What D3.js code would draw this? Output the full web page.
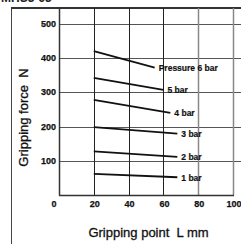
<!DOCTYPE html>
<html>
  <head>
    <meta charset="utf-8">
    <title>Gripping force</title>
    <script src="https://cdn.jsdelivr.net/npm/d3@7"></script>
    <style>
      body { margin: 0; background: #fff; }
      svg { display: block; font-family: "Liberation Sans", Arial, sans-serif; }
      .tick { font-size: 9px; font-weight: bold; fill: #111; stroke: #111; stroke-width: 0.25px; }
      .curveLabel { font-size: 8.5px; font-weight: bold; fill: #111; stroke: #111; stroke-width: 0.2px; }
      .title { font-size: 13px; fill: #111; stroke: #111; stroke-width: 0.3px; }
    </style>
  </head>
  <body>
    <svg id="chart" width="241" height="244"></svg>
    <script>
      // data
      xTicks = [0, 20, 40, 60, 80, 100];
      yTicks = [100, 200, 300, 400, 500];
      yTickLabels = [0, 100, 200, 300, 400, 500];
      curveNames = ["Pressure 6 bar", "5 bar", "4 bar", "3 bar", "2 bar", "1 bar"];
      startL = [20, 20, 20, 20, 20, 20];
      endL = [55, 60, 64, 68, 68, 68];
      startForce = [420, 342, 278, 199, 128, 63];
      endForce = [372, 307, 240, 180, 112, 53];

      chart = d3.select("#chart");
      width = 241;
      height = 244;
      margin = { top: 8, left: 59, bottom: 195.5 };

      x = d3.scaleLinear().domain([0, 100]).range([59, 233]);
      y = d3.scaleLinear().domain([0, 500]).range([195.5, 23.5]);

      // heading, cut off by the top edge like the scan
      chart.append("text")
        .attr("x", 1)
        .attr("y", 1.5)
        .style("font-size", "12px")
        .style("font-weight", "bold")
        .style("fill", "#222")
        .text("MHS3-63");

      // frame
      chart.append("line")
        .attr("x1", 11.5).attr("x2", 11.5)
        .attr("y1", margin.top).attr("y2", height)
        .attr("stroke", "#444").attr("stroke-width", 1);
      chart.append("line")
        .attr("x1", 11).attr("x2", width)
        .attr("y1", margin.top).attr("y2", margin.top)
        .attr("stroke", "#333").attr("stroke-width", 2);

      // grid
      chart.append("g")
        .selectAll("line")
          .data(yTicks)
        .enter().append("line")
          .attr("x1", margin.left)
          .attr("x2", width)
          .attr("y1", function(d) { return Math.round(y(d)) + 0.5; })
          .attr("y2", function(d) { return Math.round(y(d)) + 0.5; })
          .attr("stroke", "#555")
          .attr("stroke-width", 1);
      chart.append("g")
        .selectAll("line")
          .data(xTicks.slice(1))
        .enter().append("line")
          .attr("x1", function(d) { return Math.round(x(d)) + 0.5; })
          .attr("x2", function(d) { return Math.round(x(d)) + 0.5; })
          .attr("y1", margin.top)
          .attr("y2", margin.bottom)
          .attr("stroke", function(d) { return d > 60 ? "#888" : "#222"; })
          .attr("stroke-width", function(d) { return d > 60 ? 1.5 : 1; });

      // axes
      chart.append("line")
        .attr("x1", margin.left + 0.5).attr("x2", margin.left + 0.5)
        .attr("y1", margin.top).attr("y2", margin.bottom)
        .attr("stroke", "#333").attr("stroke-width", 1.5);
      chart.append("line")
        .attr("x1", margin.left).attr("x2", x(100) + 1)
        .attr("y1", margin.bottom).attr("y2", margin.bottom)
        .attr("stroke", "#333").attr("stroke-width", 1.5);

      // tick labels
      chart.append("g")
        .selectAll("text")
          .data(yTickLabels.slice(1))
        .enter().append("text")
          .classed("tick", true)
          .attr("x", 56)
          .attr("y", function(d) { return y(d); })
          .attr("dy", "0.35em")
          .attr("text-anchor", "end")
          .text(function(d) { return d; });
      chart.append("g")
        .selectAll("text")
          .data(xTicks)
        .enter().append("text")
          .classed("tick", true)
          .attr("x", function(d) { return d === 0 ? x(d) - 5 : x(d) + 1; })
          .attr("y", 207)
          .attr("text-anchor", "middle")
          .text(function(d) { return d; });

      // pressure curves
      curves = curveNames.map(function(name, i) {
        return { name: name, l0: startL[i], l1: endL[i], f0: startForce[i], f1: endForce[i] };
      });
      chart.append("g")
        .selectAll("line")
          .data(curves)
        .enter().append("line")
          .attr("x1", function(d) { return x(d.l0); })
          .attr("y1", function(d) { return y(d.f0); })
          .attr("x2", function(d) { return x(d.l1); })
          .attr("y2", function(d) { return y(d.f1); })
          .attr("stroke", "#111")
          .attr("stroke-width", 1.8);
      chart.append("g")
        .selectAll("text")
          .data(curves)
        .enter().append("text")
          .classed("curveLabel", true)
          .attr("x", function(d) { return x(d.l1) + 4; })
          .attr("y", function(d) { return y(d.f1); })
          .attr("dy", "0.4em")
          .text(function(d) { return d.name; });

      // axis titles
      chart.append("text")
        .classed("title", true)
        .attr("x", 148.5)
        .attr("y", 237)
        .attr("text-anchor", "middle")
        .style("white-space", "pre")
        .text("Gripping point  L mm");
      chart.append("text")
        .classed("title", true)
        .attr("transform", "translate(28, 117.5) rotate(-90)")
        .attr("text-anchor", "middle")
        .style("white-space", "pre")
        .text("Gripping force  N");
    </script>
  </body>
</html>
